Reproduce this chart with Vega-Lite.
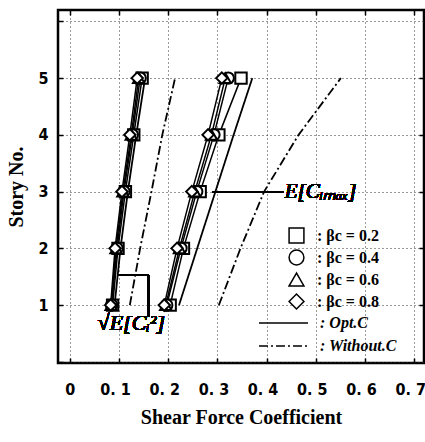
{
  "$schema": "https://vega.github.io/schema/vega-lite/v6.json",
  "autosize": "none",
  "width": 366,
  "height": 353,
  "padding": {"left": 58, "top": 10, "right": 1, "bottom": 79},
  "background": "white",
  "config": {
    "view": {"stroke": "black", "strokeWidth": 2.5},
    "axis": {"domain": false, "labelFont": "Liberation Sans Narrow, DejaVu Sans Condensed, sans-serif", "labelFontWeight": "bold", "labelFontSize": 16, "labelColor": "black", "titleFont": "Liberation Serif", "titleFontWeight": "bold", "titleFontSize": 20, "titleColor": "black", "tickColor": "black", "tickWidth": 1.5},
    "legend": {"labelFont": "Liberation Serif", "labelFontWeight": "bold", "labelFontSize": 16, "labelColor": "black"}
  },
  "datasets": {
    "curves": [
      {"g": "sqrt", "kind": "beta", "beta": "0.2", "story": 1, "x": 0.087},
      {"g": "sqrt", "kind": "beta", "beta": "0.2", "story": 2, "x": 0.098},
      {"g": "sqrt", "kind": "beta", "beta": "0.2", "story": 3, "x": 0.113},
      {"g": "sqrt", "kind": "beta", "beta": "0.2", "story": 4, "x": 0.130},
      {"g": "sqrt", "kind": "beta", "beta": "0.2", "story": 5, "x": 0.147},
      {"g": "sqrt", "kind": "beta", "beta": "0.4", "story": 1, "x": 0.085},
      {"g": "sqrt", "kind": "beta", "beta": "0.4", "story": 2, "x": 0.096},
      {"g": "sqrt", "kind": "beta", "beta": "0.4", "story": 3, "x": 0.110},
      {"g": "sqrt", "kind": "beta", "beta": "0.4", "story": 4, "x": 0.127},
      {"g": "sqrt", "kind": "beta", "beta": "0.4", "story": 5, "x": 0.143},
      {"g": "sqrt", "kind": "beta", "beta": "0.6", "story": 1, "x": 0.084},
      {"g": "sqrt", "kind": "beta", "beta": "0.6", "story": 2, "x": 0.094},
      {"g": "sqrt", "kind": "beta", "beta": "0.6", "story": 3, "x": 0.108},
      {"g": "sqrt", "kind": "beta", "beta": "0.6", "story": 4, "x": 0.125},
      {"g": "sqrt", "kind": "beta", "beta": "0.6", "story": 5, "x": 0.140},
      {"g": "sqrt", "kind": "beta", "beta": "0.8", "story": 1, "x": 0.083},
      {"g": "sqrt", "kind": "beta", "beta": "0.8", "story": 2, "x": 0.092},
      {"g": "sqrt", "kind": "beta", "beta": "0.8", "story": 3, "x": 0.106},
      {"g": "sqrt", "kind": "beta", "beta": "0.8", "story": 4, "x": 0.122},
      {"g": "sqrt", "kind": "beta", "beta": "0.8", "story": 5, "x": 0.137},
      {"g": "sqrt", "kind": "Opt.C", "story": 1, "x": 0.091},
      {"g": "sqrt", "kind": "Opt.C", "story": 2, "x": 0.103},
      {"g": "sqrt", "kind": "Opt.C", "story": 3, "x": 0.118},
      {"g": "sqrt", "kind": "Opt.C", "story": 4, "x": 0.135},
      {"g": "sqrt", "kind": "Opt.C", "story": 5, "x": 0.153},
      {"g": "sqrt", "kind": "Without.C", "story": 1, "x": 0.122},
      {"g": "sqrt", "kind": "Without.C", "story": 2, "x": 0.143},
      {"g": "sqrt", "kind": "Without.C", "story": 3, "x": 0.166},
      {"g": "sqrt", "kind": "Without.C", "story": 4, "x": 0.188},
      {"g": "sqrt", "kind": "Without.C", "story": 5, "x": 0.214},
      {"g": "max", "kind": "beta", "beta": "0.2", "story": 1, "x": 0.204},
      {"g": "max", "kind": "beta", "beta": "0.2", "story": 2, "x": 0.231},
      {"g": "max", "kind": "beta", "beta": "0.2", "story": 3, "x": 0.265},
      {"g": "max", "kind": "beta", "beta": "0.2", "story": 4, "x": 0.303},
      {"g": "max", "kind": "beta", "beta": "0.2", "story": 5, "x": 0.348},
      {"g": "max", "kind": "beta", "beta": "0.4", "story": 1, "x": 0.197},
      {"g": "max", "kind": "beta", "beta": "0.4", "story": 2, "x": 0.226},
      {"g": "max", "kind": "beta", "beta": "0.4", "story": 3, "x": 0.258},
      {"g": "max", "kind": "beta", "beta": "0.4", "story": 4, "x": 0.293},
      {"g": "max", "kind": "beta", "beta": "0.4", "story": 5, "x": 0.322},
      {"g": "max", "kind": "beta", "beta": "0.6", "story": 1, "x": 0.195},
      {"g": "max", "kind": "beta", "beta": "0.6", "story": 2, "x": 0.223},
      {"g": "max", "kind": "beta", "beta": "0.6", "story": 3, "x": 0.254},
      {"g": "max", "kind": "beta", "beta": "0.6", "story": 4, "x": 0.288},
      {"g": "max", "kind": "beta", "beta": "0.6", "story": 5, "x": 0.316},
      {"g": "max", "kind": "beta", "beta": "0.8", "story": 1, "x": 0.192},
      {"g": "max", "kind": "beta", "beta": "0.8", "story": 2, "x": 0.218},
      {"g": "max", "kind": "beta", "beta": "0.8", "story": 3, "x": 0.248},
      {"g": "max", "kind": "beta", "beta": "0.8", "story": 4, "x": 0.281},
      {"g": "max", "kind": "beta", "beta": "0.8", "story": 5, "x": 0.309},
      {"g": "max", "kind": "Opt.C", "story": 1, "x": 0.222},
      {"g": "max", "kind": "Opt.C", "story": 2, "x": 0.259},
      {"g": "max", "kind": "Opt.C", "story": 3, "x": 0.296},
      {"g": "max", "kind": "Opt.C", "story": 4, "x": 0.333},
      {"g": "max", "kind": "Opt.C", "story": 5, "x": 0.371},
      {"g": "max", "kind": "Without.C", "story": 1, "x": 0.303},
      {"g": "max", "kind": "Without.C", "story": 2, "x": 0.347},
      {"g": "max", "kind": "Without.C", "story": 3, "x": 0.395},
      {"g": "max", "kind": "Without.C", "story": 4, "x": 0.465},
      {"g": "max", "kind": "Without.C", "story": 5, "x": 0.551}
    ]
  },
  "data": {"name": "curves"},
  "resolve": {"axis": {"x": "independent", "y": "independent"}},
  "layer": [
    {
      "transform": [{"filter": "datum.kind == 'beta'"}],
      "mark": {"type": "line", "color": "black", "strokeWidth": 1.5},
      "encoding": {
        "x": {"field": "x", "type": "quantitative", "scale": {"domain": [-0.024, 0.72], "nice": false, "zero": false},
          "axis": {"orient": "bottom", "values": [0, 0.1, 0.2, 0.3, 0.4, 0.5, 0.6, 0.7], "title": "Shear Force Coefficient", "titlePadding": 10, "labelPadding": 23, "tickSize": -5, "grid": true, "gridColor": "#333", "gridDash": [1, 3], "gridWidth": 1,
            "labelOffset": {"condition": {"test": "datum.value == 0", "value": 0}, "value": -4},
            "labelExpr": "datum.value == 0 ? '0' : replace(format(datum.value, '.1f'), '.', '. ')"}},
        "y": {"field": "story", "type": "quantitative", "scale": {"domain": [-0.02, 6.2], "nice": false, "zero": false},
          "axis": {"orient": "left", "values": [0, 1, 2, 3, 4, 5, 6], "title": "Story No.", "titlePadding": 11, "labelPadding": 15, "tickSize": -5, "grid": true, "gridColor": "#333", "gridDash": [1, 3], "gridWidth": 1,
            "labelExpr": "datum.value >= 1 && datum.value <= 5 ? datum.label : ''"}},
        "detail": [{"field": "g"}, {"field": "beta"}],
        "order": {"field": "story"}
      }
    },
    {
      "transform": [{"filter": "datum.kind != 'beta'"}],
      "mark": {"type": "line", "color": "black", "strokeWidth": 1.8},
      "encoding": {
        "x": {"field": "x", "type": "quantitative", "axis": {"orient": "top", "values": [0, 0.1, 0.2, 0.3, 0.4, 0.5, 0.6, 0.7], "labels": false, "title": null, "tickSize": -5, "grid": false}},
        "y": {"field": "story", "type": "quantitative", "axis": {"orient": "right", "values": [1, 2, 3, 4, 5], "labels": false, "title": null, "tickSize": -5, "grid": false}},
        "detail": {"field": "g"},
        "order": {"field": "story"},
        "strokeDash": {"field": "kind", "type": "nominal", "scale": {"domain": ["Opt.C", "Without.C"], "range": [[1, 0], [9, 3, 2, 3]]},
          "legend": {"orient": "none", "legendX": 200, "legendY": 304, "title": null, "symbolType": "stroke", "symbolSize": 2400, "clipHeight": 18, "symbolStrokeColor": "black", "symbolStrokeWidth": 1.5, "labelOffset": 11, "rowPadding": 5, "labelFontStyle": "italic", "labelExpr": "': ' + datum.label"}}
      }
    },
    {
      "transform": [{"filter": "datum.kind == 'beta'"}],
      "mark": {"type": "point", "filled": false, "fill": "white", "stroke": "black", "strokeWidth": 2, "size": 130, "opacity": 1},
      "encoding": {
        "x": {"field": "x", "type": "quantitative", "axis": null},
        "y": {"field": "story", "type": "quantitative", "axis": null},
        "shape": {"field": "beta", "type": "nominal", "scale": {"domain": ["0.2", "0.4", "0.6", "0.8"], "range": ["square", "circle", "triangle-up", "diamond"]},
          "legend": {"orient": "none", "legendX": 230, "legendY": 217, "title": null, "symbolSize": 220, "clipHeight": 17, "labelOffset": 12, "rowPadding": 5, "labelExpr": "': βc = ' + datum.label",
            "encode": {"symbols": {"update": {"fill": {"value": "white"}, "stroke": {"value": "black"}, "strokeWidth": {"value": 1.8}, "opacity": {"value": 1}}}}}}
      }
    },
    {
      "mark": {"type": "rule", "color": "black", "strokeWidth": 1.3},
      "encoding": {"x": {"datum": 0.29, "type": "quantitative", "axis": null}, "x2": {"datum": 0.435}, "y": {"datum": 3, "type": "quantitative", "axis": null}}
    },
    {
      "mark": {"type": "rule", "color": "black", "strokeWidth": 1.3},
      "encoding": {"x": {"datum": 0.098, "type": "quantitative", "axis": null}, "x2": {"datum": 0.16}, "y": {"datum": 1.53, "type": "quantitative", "axis": null}}
    },
    {
      "mark": {"type": "rule", "color": "black", "strokeWidth": 1.3},
      "encoding": {"x": {"datum": 0.16, "type": "quantitative", "axis": null}, "y": {"datum": 0.79, "type": "quantitative", "axis": null}, "y2": {"datum": 1.53}}
    },
    {
      "mark": {"type": "text", "align": "left", "baseline": "middle", "font": "Liberation Serif", "fontSize": 21, "fontStyle": "italic", "color": "black"},
      "encoding": {"x": {"datum": 0.437, "type": "quantitative", "axis": null}, "y": {"datum": 3, "type": "quantitative", "axis": null}, "text": {"value": "E[Cᵢₘₐₓ]"}}
    },
    {
      "mark": {"type": "text", "align": "center", "baseline": "middle", "font": "Liberation Serif", "fontSize": 22, "fontStyle": "italic", "color": "black"},
      "encoding": {"x": {"datum": 0.125, "type": "quantitative", "axis": null}, "y": {"datum": 0.68, "type": "quantitative", "axis": null}, "text": {"value": "√E[Cᵢ²]"}}
    }
  ]
}
